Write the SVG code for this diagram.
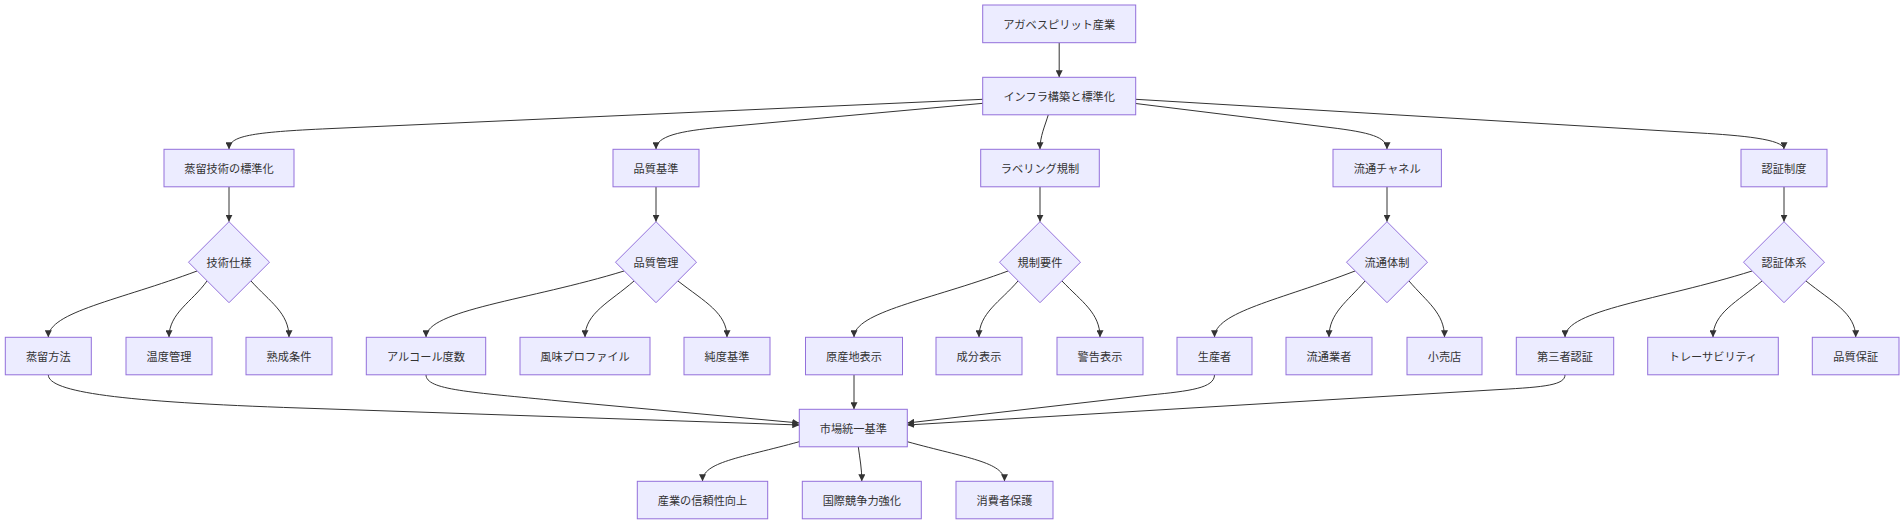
<svg xmlns="http://www.w3.org/2000/svg" width="1904" height="524" viewBox="0 0 1904 524">
<style>
.n rect,.n polygon{fill:#ECECFF;stroke:#9370DB;stroke-width:1}
.n text{font-family:"Noto Sans CJK JP","Noto Sans CJK SC",sans-serif;font-size:11.2px;fill:#333;text-anchor:middle;dominant-baseline:central}
#edges path{fill:none;stroke:#333;stroke-width:1;marker-end:url(#arrow)}
</style>
<defs>
<marker id="arrow" viewBox="0 0 10 10" refX="10" refY="5" markerUnits="userSpaceOnUse" markerWidth="7" markerHeight="7" orient="auto">
<path d="M0,0 L10,5 L0,10 z" fill="#333"/>
</marker>
</defs>
<rect width="1904" height="524" fill="#fff"/>
<g id="edges">
<path d="M1059.2,42.7 L1059.2,77.3"/>
<path d="M983,99.3 L330,128.6 C250,132.2 229,136 229,149.3"/>
<path d="M983,103.3 L720,127.3 C680,131 656,136 656,149.3"/>
<path d="M1048.3,114.7 C1045,126 1040,136 1040,149.3"/>
<path d="M1135.7,103.5 L1330,127.5 C1370,132.4 1387,137 1387,149.3"/>
<path d="M1135.7,99.3 L1700,133 C1740,135.4 1784,139 1784,149.3"/>
<path d="M229,186.8 L229,221.7"/>
<path d="M656,186.8 L656,221.7"/>
<path d="M1040,186.8 L1040,221.7"/>
<path d="M1387,186.8 L1387,221.7"/>
<path d="M1784,186.8 L1784,221.7"/>
<path d="M197,271 C120,300 48.3,312 48.3,337.3"/>
<path d="M207,281 C192,302 169,313 169,337.3"/>
<path d="M251,281 C270,302 289,313 289,337.3"/>
<path d="M624,271 C530,300 426,310 426,337.3"/>
<path d="M634,281 C610,302 585,313 585,337.3"/>
<path d="M678,281 C705,302 727,313 727,337.3"/>
<path d="M1008,271 C930,300 854,312 854,337.3"/>
<path d="M1018,281 C1000,302 979,313 979,337.3"/>
<path d="M1062,281 C1082,302 1100,313 1100,337.3"/>
<path d="M1355,271 C1280,300 1214.5,312 1214.5,337.3"/>
<path d="M1365,281 C1347,302 1329,313 1329,337.3"/>
<path d="M1409,281 C1427,302 1444.5,313 1444.5,337.3"/>
<path d="M1752,271 C1660,300 1565,310 1565,337.3"/>
<path d="M1762,281 C1737,302 1713,313 1713,337.3"/>
<path d="M1806,281 C1832,302 1855.7,313 1855.7,337.3"/>
<path d="M48.3,374.8 C48.3,392 120,402 300,408 L799.3,425"/>
<path d="M426,374.8 C426,390 470,392 560,401 L799.3,423"/>
<path d="M854,374.8 L854,409.3"/>
<path d="M1214.5,374.8 C1214.5,388 1190,391 1150,395 L907.3,423"/>
<path d="M1565,374.8 C1565,385 1545,387 1500,389.5 L907.3,425"/>
<path d="M799.3,441.7 C740,458 702.5,462 702.5,481.3"/>
<path d="M858.3,446.8 C860,460 861.8,468 861.8,481.3"/>
<path d="M907.3,441.7 C966,458 1004.5,462 1004.5,481.3"/>
</g>
<g id="n_top" class="n"><rect x="982.7" y="5" width="153" height="37.7"/><text x="1059.2" y="23.85">アガベスピリット産業</text></g>
<g id="n_infra" class="n"><rect x="982.7" y="77.3" width="153" height="37.5"/><text x="1059.2" y="96">インフラ構築と標準化</text></g>
<g id="n_jouryu" class="n"><rect x="164" y="149.3" width="130" height="37.5"/><text x="229" y="168">蒸留技術の標準化</text></g>
<g id="n_hinshitsu" class="n"><rect x="613" y="149.3" width="86" height="37.5"/><text x="656" y="168">品質基準</text></g>
<g id="n_label" class="n"><rect x="980.7" y="149.3" width="118.6" height="37.5"/><text x="1040" y="168">ラベリング規制</text></g>
<g id="n_ryutsu" class="n"><rect x="1333" y="149.3" width="108.4" height="37.5"/><text x="1387.2" y="168">流通チャネル</text></g>
<g id="n_ninsho" class="n"><rect x="1741" y="149.3" width="86" height="37.5"/><text x="1784" y="168">認証制度</text></g>
<g id="d_gijutsu" class="n"><polygon points="229,221.7 269.5,262.2 229,302.7 188.5,262.2"/><text x="229" y="262.2">技術仕様</text></g>
<g id="d_hinkan" class="n"><polygon points="656,221.7 696.5,262.2 656,302.7 615.5,262.2"/><text x="656" y="262.2">品質管理</text></g>
<g id="d_kisei" class="n"><polygon points="1040,221.7 1080.5,262.2 1040,302.7 999.5,262.2"/><text x="1040" y="262.2">規制要件</text></g>
<g id="d_ryutsu" class="n"><polygon points="1387,221.7 1427.5,262.2 1387,302.7 1346.5,262.2"/><text x="1387" y="262.2">流通体制</text></g>
<g id="d_ninsho" class="n"><polygon points="1784,221.7 1824.5,262.2 1784,302.7 1743.5,262.2"/><text x="1784" y="262.2">認証体系</text></g>
<g id="n_a1" class="n"><rect x="5.3" y="337.3" width="86" height="37.5"/><text x="48.3" y="356">蒸留方法</text></g>
<g id="n_a2" class="n"><rect x="126" y="337.3" width="86" height="37.5"/><text x="169" y="356">温度管理</text></g>
<g id="n_a3" class="n"><rect x="246" y="337.3" width="86" height="37.5"/><text x="289" y="356">熟成条件</text></g>
<g id="n_b1" class="n"><rect x="366.3" y="337.3" width="119.4" height="37.5"/><text x="426" y="356">アルコール度数</text></g>
<g id="n_b2" class="n"><rect x="520" y="337.3" width="130" height="37.5"/><text x="585" y="356">風味プロファイル</text></g>
<g id="n_b3" class="n"><rect x="684" y="337.3" width="86" height="37.5"/><text x="727" y="356">純度基準</text></g>
<g id="n_c1" class="n"><rect x="805.5" y="337.3" width="97" height="37.5"/><text x="854" y="356">原産地表示</text></g>
<g id="n_c2" class="n"><rect x="936" y="337.3" width="86" height="37.5"/><text x="979" y="356">成分表示</text></g>
<g id="n_c3" class="n"><rect x="1057" y="337.3" width="86" height="37.5"/><text x="1100" y="356">警告表示</text></g>
<g id="n_d1" class="n"><rect x="1177" y="337.3" width="75" height="37.5"/><text x="1214.5" y="356">生産者</text></g>
<g id="n_d2" class="n"><rect x="1286" y="337.3" width="86" height="37.5"/><text x="1329" y="356">流通業者</text></g>
<g id="n_d3" class="n"><rect x="1407" y="337.3" width="75" height="37.5"/><text x="1444.5" y="356">小売店</text></g>
<g id="n_e1" class="n"><rect x="1516.3" y="337.3" width="97.4" height="37.5"/><text x="1565" y="356">第三者認証</text></g>
<g id="n_e2" class="n"><rect x="1647.7" y="337.3" width="130.6" height="37.5"/><text x="1713" y="356">トレーサビリティ</text></g>
<g id="n_e3" class="n"><rect x="1812.3" y="337.3" width="86.7" height="37.5"/><text x="1855.7" y="356">品質保証</text></g>
<g id="n_market" class="n"><rect x="799.3" y="409.3" width="108" height="37.5"/><text x="853.3" y="428">市場統一基準</text></g>
<g id="n_f1" class="n"><rect x="637.3" y="481.3" width="130.4" height="37.5"/><text x="702.5" y="500">産業の信頼性向上</text></g>
<g id="n_f2" class="n"><rect x="802.3" y="481.3" width="119" height="37.5"/><text x="861.8" y="500">国際競争力強化</text></g>
<g id="n_f3" class="n"><rect x="956" y="481.3" width="97" height="37.5"/><text x="1004.5" y="500">消費者保護</text></g>
</svg>
